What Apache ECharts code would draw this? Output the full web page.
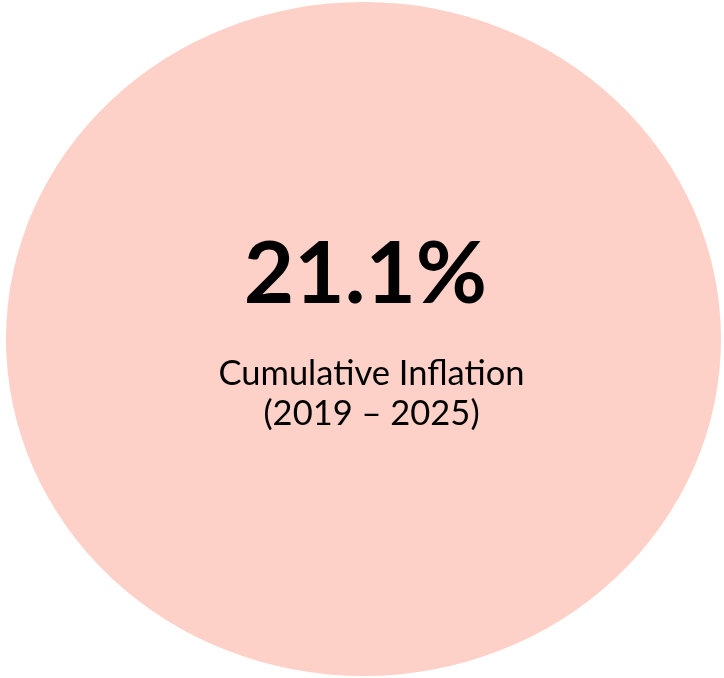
<!DOCTYPE html>
<html>
<head>
<meta charset="utf-8">
<script src="https://cdn.jsdelivr.net/npm/echarts@6/dist/echarts.min.js"></script>
<style>html,body{margin:0;padding:0;background:#fff;}#c{width:724px;height:678px;}</style>
</head>
<body>
<div id="c"></div>
<script>
const categories = ['Cumulative Inflation'];
const periodLabel = '(2019 – 2025)';
const values = [21.1];

const chart = echarts.init(document.getElementById('c'));
chart.setOption({
  animation: false,
  backgroundColor: '#ffffff',
  grid: { left: 3, right: 0, top: 0, bottom: 0 },
  xAxis: { type: 'category', data: categories, show: false },
  yAxis: { type: 'value', min: 0, max: values[0] * 2, show: false },
  series: [{
    type: 'scatter',
    data: values,
    symbol: 'circle',
    symbolSize: [715, 674],
    itemStyle: { color: '#FDD1C7', opacity: 1 },
    label: {
      show: true,
      position: 'inside',
      offset: [0, -24],
      formatter: function (p) {
        return '{a|' + p.value.toFixed(1) + '%}\n{b|' + p.name + '}\n{b|' + periodLabel + '}';
      },
      rich: {
        a: { fontFamily: 'Lato', fontWeight: 'bold', fontSize: 87, color: '#000', lineHeight: 157, align: 'center', padding: [0, 0, 0, 4] },
        b: { fontFamily: 'Lato', fontSize: 34.5, color: '#000', lineHeight: 40, align: 'center', padding: [0, 0, 0, 16] }
      }
    }
  }]
});
</script>
</body>
</html>
